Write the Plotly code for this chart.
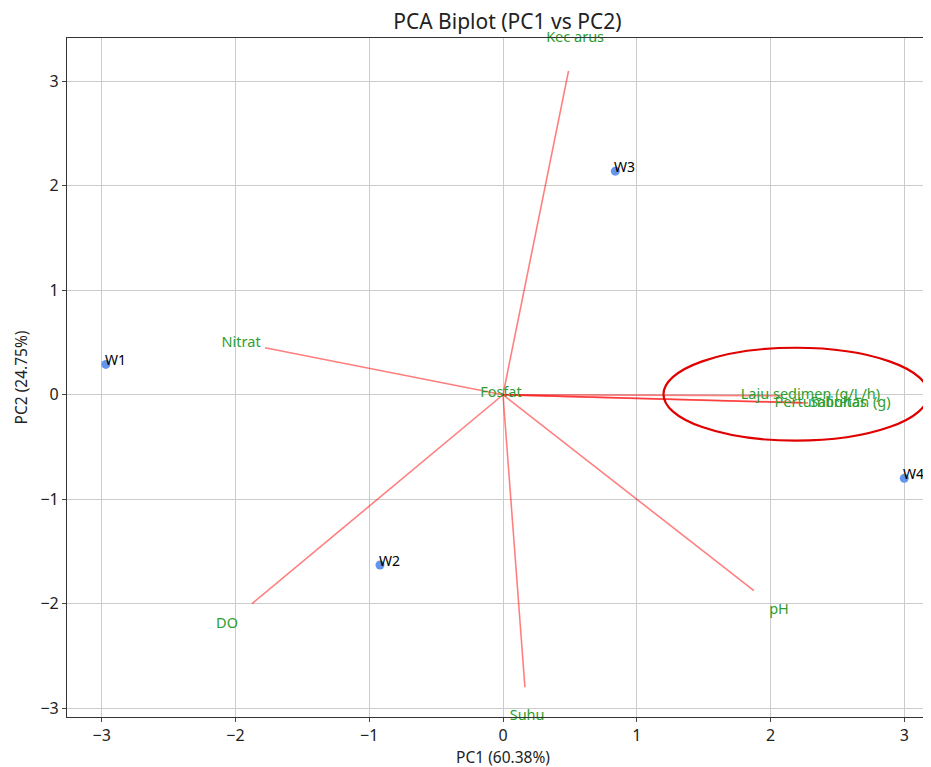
import plotly.graph_objects as go

# Sample scores
samples = ["W1", "W2", "W3", "W4"]
pc1_scores = [-2.97, -0.92, 0.84, 3.00]
pc2_scores = [0.29, -1.63, 2.14, -0.80]

# Variable loadings (scaled)
variables = ["Kec arus", "Nitrat", "Fosfat", "DO", "Suhu", "pH",
             "Laju sedimen (g/L/h)", "Pertumbuhan (g)", "Salinitas"]
load_pc1 = [0.49, -1.78, -0.014, -1.876, 0.164, 1.876, 2.09, 2.24, 2.28]
load_pc2 = [3.10, 0.45, 0.009, -2.00, -2.80, -1.876, -0.009, -0.078, -0.078]
label_scale = 1.1

x_ticks = [-3, -2, -1, 0, 1, 2, 3]
y_ticks = [-3, -2, -1, 0, 1, 2, 3]

FONT = "Noto Sans"

fig = go.Figure()

for v, lx, ly in zip(variables, load_pc1, load_pc2):
    fig.add_trace(go.Scatter(x=[0, lx], y=[0, ly], mode="lines",
                             line=dict(color="rgba(255,0,0,0.5)", width=1.6),
                             showlegend=False, hoverinfo="skip"))

fig.add_trace(go.Scatter(x=pc1_scores, y=pc2_scores, mode="markers",
                         marker=dict(color="#6495ED", size=9),
                         showlegend=False, cliponaxis=False))

for s, x, y in zip(samples, pc1_scores, pc2_scores):
    fig.add_annotation(x=x, y=y, text=s, showarrow=False, xanchor="left", yanchor="bottom",
                       xshift=-3, yshift=-7,
                       font=dict(color="black", size=14, family=FONT))

fig.add_trace(go.Scatter(x=[x * label_scale for x in load_pc1],
                         y=[y * label_scale for y in load_pc2],
                         mode="text", text=variables, textposition="middle center",
                         textfont=dict(color="#2e9e2e", size=14.5, family=FONT),
                         showlegend=False, cliponaxis=False))

fig.add_shape(type="circle", xref="x", yref="y", x0=1.2, x1=3.18, y0=-0.44, y1=0.45,
              line=dict(color="#e00000", width=2.2))

fig.update_layout(
    width=931, height=767,
    margin=dict(l=59, r=0, t=30, b=58, autoexpand=False),
    paper_bgcolor="white", plot_bgcolor="white",
    title=dict(text="PCA Biplot (PC1 vs PC2)", xref="paper", x=0.505, xanchor="center",
               y=0.982, yanchor="middle",
               font=dict(size=21, color="#222", family=FONT)),
    font=dict(family=FONT, color="#222"),
    xaxis=dict(range=[-3.26, 3.26], tickvals=x_ticks, showgrid=True, gridcolor="#cccccc",
               zeroline=False, showline=True, linecolor="#333", linewidth=1.2, mirror=True,
               ticks="outside", ticklen=4, tickfont=dict(size=16), automargin=False,
               title=dict(text="PC1 (60.38%)", font=dict(size=15.5), standoff=4)),
    yaxis=dict(range=[-3.085, 3.415], tickvals=y_ticks, showgrid=True, gridcolor="#cccccc",
               zeroline=False, showline=True, linecolor="#333", linewidth=1.2,
               ticks="outside", ticklen=4, tickfont=dict(size=16), automargin=False,
               title=dict(text="PC2 (24.75%)", font=dict(size=15.5), standoff=8)),
)

fig.write_html("out.html")
